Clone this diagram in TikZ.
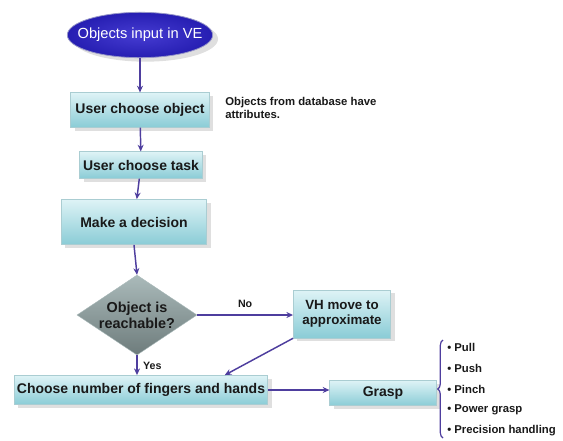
\documentclass[tikz,border=0pt]{standalone}
\usepackage{fontspec}
\setmainfont{Liberation Sans}
\usetikzlibrary{shapes.geometric,arrows.meta,shadows,decorations.pathreplacing,calc}
\definecolor{boxtop}{RGB}{222,243,246}
\definecolor{boxbot}{RGB}{138,204,214}
\definecolor{boxedge}{RGB}{170,205,210}
\definecolor{ellfill}{RGB}{38,30,178}
\definecolor{ellin}{RGB}{70,60,210}
\definecolor{elledge}{RGB}{150,150,200}
\definecolor{diatop}{RGB}{170,186,186}
\definecolor{diabot}{RGB}{110,124,124}
\definecolor{conncol}{RGB}{78,62,158}
\definecolor{txt}{RGB}{25,25,25}
\tikzset{
  box/.style={rectangle, draw=boxedge, line width=0.4pt, top color=boxtop, bottom color=boxbot,
    font=\bfseries\fontsize{10.5}{12}\selectfont, text=txt, inner sep=1pt, align=center,
    drop shadow={shadow xshift=3pt, shadow yshift=-2.5pt, opacity=0.25}},
  startnode/.style={ellipse, draw=elledge, line width=0.6pt, inner color=ellin, outer color=ellfill,
    text=white, font=\fontsize{11}{13}\selectfont, inner xsep=-9pt, inner ysep=2pt,
    drop shadow={shadow xshift=4pt, shadow yshift=-3pt, opacity=0.25}},
  decision/.style={diamond, aspect=1.5, draw=diatop, line width=0.3pt, top color=diatop, bottom color=diabot,
    text=txt, font=\bfseries\fontsize{10.8}{12}\selectfont, inner sep=0pt, align=center},
  conn/.style={draw=conncol, line width=1.1pt, -{Stealth[length=5pt,width=4.5pt]}},
  small/.style={font=\bfseries\fontsize{8}{9.5}\selectfont, text=txt, inner sep=0pt},
  item/.style={small, anchor=west, font=\bfseries\fontsize{8.5}{10}\selectfont},
}
\begin{document}
\begin{tikzpicture}[x=0.75pt,y=-0.75pt]
\useasboundingbox (0,0) rectangle (563,440);
\node[startnode, minimum width=109pt, minimum height=34pt] (start) at (140,35) {Objects input in VE};
\node[box, minimum width=104pt, minimum height=26pt] (b1) at (140,110) {User choose object};
\node[small, anchor=north west, align=left, font=\bfseries\fontsize{8.5}{10}\selectfont] (note) at (225,97) {Objects from database have\\attributes.};
\node[box, minimum width=92pt, minimum height=20pt] (b2) at (141,165) {User choose task};
\node[box, minimum width=109pt, minimum height=34pt] (b3) at (134,222) {Make a decision};
\node[decision, minimum width=90pt, minimum height=60pt] (dia) at (137,315) {Object is\\reachable?};
\node[box, minimum width=73pt, minimum height=36pt, font=\bfseries\fontsize{10}{11.5}\selectfont] (vh) at (342,314) {VH move to\\approximate};
\node[box, minimum width=190pt, minimum height=22pt] (choose) at (141,390) {Choose number of fingers and hands};
\node[box, minimum width=80pt, minimum height=19pt] (grasp) at (383,393) {Grasp};

\draw[conn] (start) -- (b1);
\draw[conn] (b1) -- (b2);
\draw[conn] (b2) -- (b3);
\draw[conn] (b3.south) -- (dia.north);
\draw[conn] (dia.east) -- node[small, above=5pt] (no) {No} (vh.west |- dia.east);
\draw[conn] (dia.south) -- node[small, right=4pt, pos=0.55] (yes) {Yes} (dia.south |- choose.north);
\draw[conn] (vh.south west) -- ($(choose.north west)!0.83!(choose.north east)$);
\draw[conn] (choose.east) -- (grasp.west |- choose.east);

\coordinate (bt) at (443,340);
\coordinate (bb) at (443,438);
\draw[draw=conncol, line width=0.9pt, decorate, decoration={brace, amplitude=4pt}] (bb) -- (bt);
\node[item] (i1) at (447,347) {\textbullet\ Pull};
\node[item] (i2) at (447,368) {\textbullet\ Push};
\node[item] (i3) at (447,389) {\textbullet\ Pinch};
\node[item] (i4) at (447,410) {\textbullet\ Power grasp};
\node[item] (i5) at (447,431) {\textbullet\ Precision handling};
\end{tikzpicture}
\end{document}
